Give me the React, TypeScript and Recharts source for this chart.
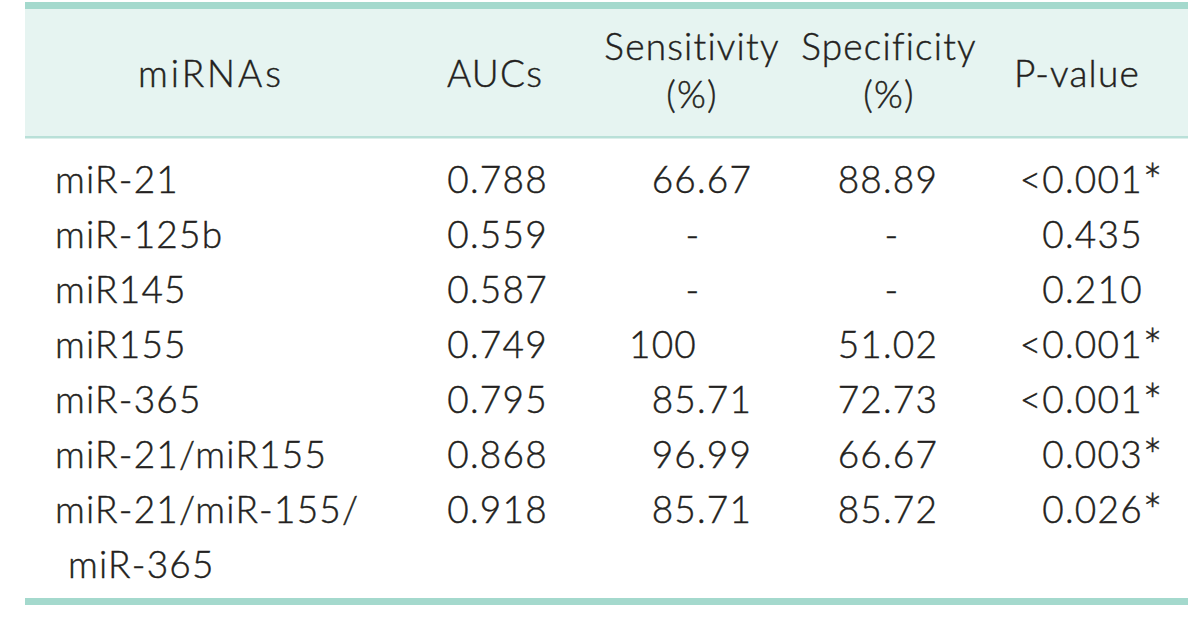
import React from 'react';
import { ScatterChart, Scatter, XAxis, YAxis, ReferenceArea } from 'recharts';

// Table contents
const headers = ['miRNAs', 'AUCs', 'Sensitivity\n(%)', 'Specificity\n(%)', 'P-value'];
const mirnas = [
  'miR-21',
  'miR-125b',
  'miR145',
  'miR155',
  'miR-365',
  'miR-21/miR155',
  'miR-21/miR-155/\nmiR-365',
];
const aucs = ['0.788', '0.559', '0.587', '0.749', '0.795', '0.868', '0.918'];
const sensitivity = ['66.67', '-', '-', '100', '85.71', '96.99', '85.71'];
const specificity = ['88.89', '-', '-', '51.02', '72.73', '66.67', '85.72'];
const pValues = ['<0.001*', '0.435', '0.210', '<0.001*', '<0.001*', '0.003*', '0.026*'];

// Layout (chart units = pixels of the 1200x618 frame)
const W = 1200;
const H = 618;
const FONT = 'Lato, "Open Sans", sans-serif';
const FONT_SIZE = 37;
const INK = '#231f20';
const TEAL = '#a4d9cd';
const BAND = '#e6f4f1';
const RULE = '#b9e0d8';
const TABLE_L = 25;
const TABLE_R = 1188;
const HEAD_BASE = 87;
const HEAD_X = [211, 495, 692, 889, 1077];
const ROW_BASE = 193;
const ROW_STEP = 55;
const NAME_X = 55;
const DEC_X = [470, 697, 883, 1065];
const DASH_X = [495, 693, 892, 1077];

const valueCols = [aucs, sensitivity, specificity, pValues];

const headerPts = headers.map((text, i) => ({ x: HEAD_X[i], y: HEAD_BASE, text }));
const namePts = mirnas.map((text, i) => ({ x: NAME_X, y: ROW_BASE + i * ROW_STEP, text }));
const valuePts = valueCols.flatMap((col, c) =>
  col.map((text, i) => ({
    x: text === '-' ? DASH_X[c] : DEC_X[c],
    y: ROW_BASE + i * ROW_STEP,
    text,
  })),
);

// light face with a hairline stroke sits between Lato Light and Regular
const textProps = {
  fontFamily: FONT,
  fontSize: FONT_SIZE,
  fontWeight: 300,
  letterSpacing: 1.2,
  fill: INK,
  stroke: INK,
  strokeWidth: 0.45,
};

function HeaderCell(props: any) {
  const { cx, cy, payload } = props;
  const lines: string[] = payload.text.split('\n');
  // the first heading is set a little looser in the reference
  const spacing = payload.text === headers[0] ? 3 : 1.2;
  if (lines.length === 1) {
    return (
      <text x={cx} y={cy} textAnchor="middle" {...textProps} letterSpacing={spacing}>
        {lines[0]}
      </text>
    );
  }
  return (
    <g>
      <text x={cx} y={cy - 27} textAnchor="middle" {...textProps}>
        {lines[0]}
      </text>
      <text x={cx} y={cy + 21} textAnchor="middle" {...textProps}>
        {lines[1]}
      </text>
    </g>
  );
}

function NameCell(props: any) {
  const { cx, cy, payload } = props;
  const lines: string[] = payload.text.split('\n');
  return (
    <g>
      {lines.map((l, i) => (
        <text key={i} x={cx + (i > 0 ? 13 : 0)} y={cy + i * ROW_STEP} textAnchor="start" {...textProps}>
          {l}
        </text>
      ))}
    </g>
  );
}

// numbers line up on the decimal point, dashes are centred
function ValueCell(props: any) {
  const { cx, cy, payload } = props;
  const t: string = payload.text;
  if (t === '-') {
    return (
      <text x={cx} y={cy} textAnchor="middle" {...textProps}>
        -
      </text>
    );
  }
  const dot = t.indexOf('.');
  const whole = dot < 0 ? t : t.slice(0, dot);
  let frac = dot < 0 ? '' : t.slice(dot);
  const star = frac.endsWith('*');
  if (star) frac = frac.slice(0, -1);
  return (
    <g>
      <text x={cx} y={cy} textAnchor="end" {...textProps}>
        {whole}
      </text>
      {frac && (
        <text x={cx} y={cy} textAnchor="start" {...textProps}>
          {frac}
          {star && (
            <tspan fontSize={FONT_SIZE * 1.25} dy={5}>
              *
            </tspan>
          )}
        </text>
      )}
    </g>
  );
}

export default function App() {
  return (
    <div style={{ width: W, height: H, background: '#fff' }}>
      <style>{'body{margin:0}'}</style>
      <ScatterChart width={W} height={H} margin={{ top: 0, right: 0, bottom: 0, left: 0 }}>
        <XAxis type="number" dataKey="x" domain={[0, W]} hide />
        <YAxis type="number" dataKey="y" domain={[0, H]} reversed hide />
        <ReferenceArea x1={TABLE_L} x2={TABLE_R} y1={9} y2={137} fill={BAND} fillOpacity={1} stroke="none" />
        <ReferenceArea x1={TABLE_L} x2={TABLE_R} y1={2} y2={9} fill={TEAL} fillOpacity={1} stroke="none" />
        <ReferenceArea x1={TABLE_L} x2={TABLE_R} y1={136} y2={138.5} fill={RULE} fillOpacity={1} stroke="none" />
        <ReferenceArea x1={TABLE_L} x2={TABLE_R} y1={598} y2={605} fill={TEAL} fillOpacity={1} stroke="none" />
        <Scatter data={headerPts} shape={<HeaderCell />} isAnimationActive={false} />
        <Scatter data={namePts} shape={<NameCell />} isAnimationActive={false} />
        <Scatter data={valuePts} shape={<ValueCell />} isAnimationActive={false} />
      </ScatterChart>
    </div>
  );
}
